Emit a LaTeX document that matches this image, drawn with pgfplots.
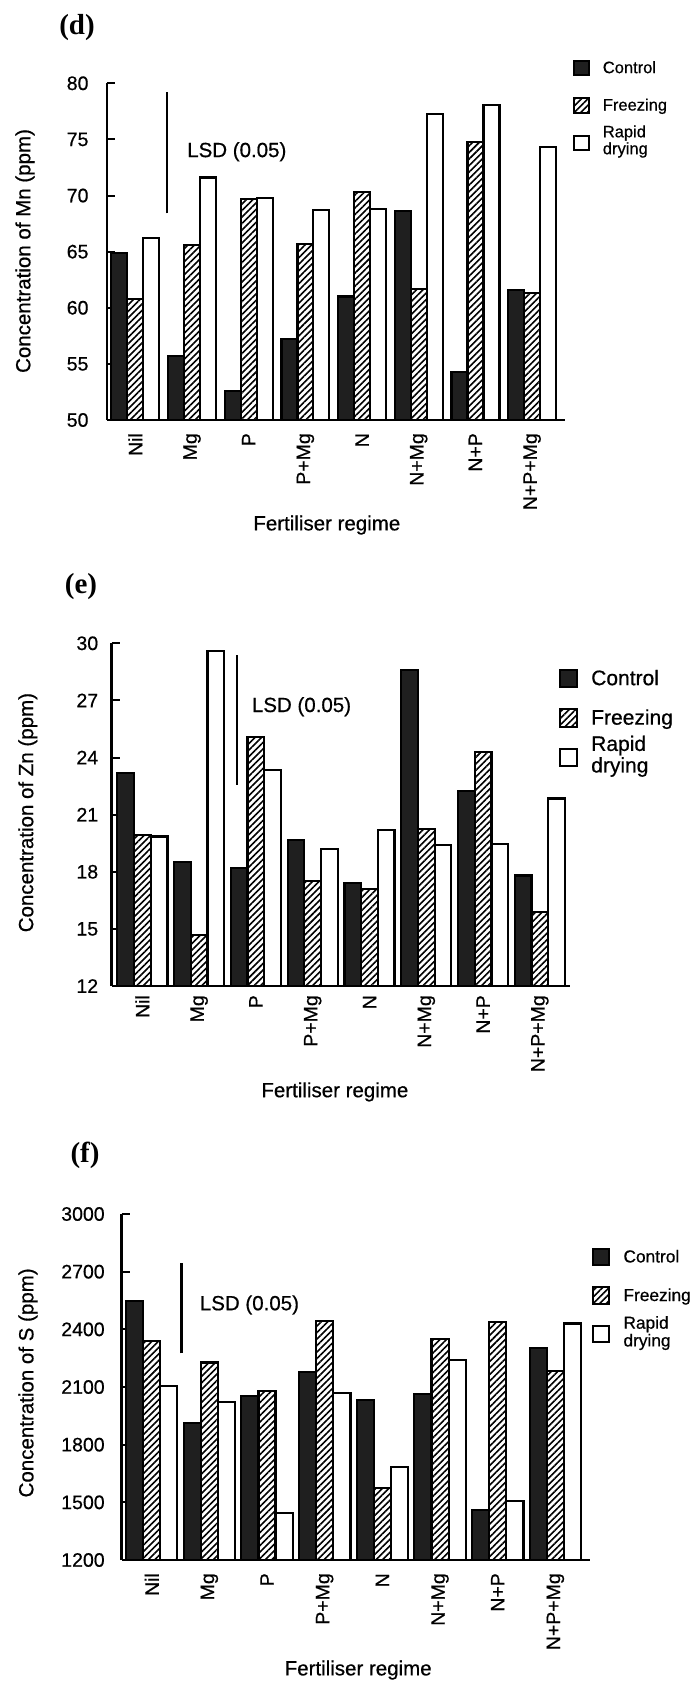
\documentclass[border=0pt]{standalone}
\usepackage{fontspec}
\setmainfont{Liberation Sans}[FakeBold=0.6]
\newfontfamily\panelfont{Liberation Serif}
\usepackage{pgfplots}
\usepackage{pgfplotstable}
\pgfplotsset{compat=1.18}
\usetikzlibrary{patterns.meta}

\newcommand{\fs}[1]{\fontsize{#1}{#1}\selectfont}

% Concentrations by fertiliser regime (0 = Nil ... 7 = N+P+Mg)
\pgfplotstableread{
g  ctrl  frz   rap
0  64.9  60.8  66.2
1  55.7  65.6  71.6
2  52.6  69.7  69.8
3  57.2  65.7  68.7
4  61.0  70.3  68.8
5  68.6  61.7  77.3
6  54.3  74.8  78.1
7  61.6  61.3  74.3
}\mntable

\pgfplotstableread{
g  ctrl   frz    rap
0  23.2   19.95  19.85
1  18.5   14.7   29.6
2  18.2   25.1   23.35
3  19.65  17.5   19.2
4  17.4   17.1   20.2
5  28.6   20.25  19.4
6  22.25  24.3   19.45
7  17.8   15.9   21.85
}\zntable

\pgfplotstableread{
g  ctrl  frz   rap
0  2549  2339  2105
1  1911  2228  2023
2  2053  2079  1443
3  2180  2443  2067
4  2032  1573  1682
5  2062  2351  2240
6  1460  2440  1505
7  2305  2183  2430
}\stable

\pgfplotsset{
  regime/.style={
    scale only axis,
    axis x line*=bottom,
    axis y line*=left,
    axis line style={line width=2.4pt},
    tick align=inside,
    major tick length=8pt,
    ytick style={line width=2pt, black},
    xtick={0,...,7},
    x tick style={draw=none},
    xticklabels={Nil,Mg,P,P+Mg,N,N+Mg,N+P,N+P+Mg},
    xticklabel style={rotate=90, anchor=east, font=\fs{19.5}},
    yticklabel style={font=\fs{19.5}},
    /pgf/number format/assume math mode=true,
    /pgf/number format/1000 sep={},
    xlabel={Fertiliser regime},
    label style={font=\fs{20.5}},
    ylabel style={rotate=0, anchor=center},
    xlabel style={anchor=center},
    clip mode=individual,
    legend cell align=left,
    legend style={draw=none, fill=none, inner sep=0pt, nodes={inner sep=1pt},
      /tikz/every odd column/.append style={column sep=12pt}},
  },
  ctrl bar/.style={ybar, bar shift=-#1, bar width=#1, draw=black, line width=2.2pt, fill=black!88},
  frz bar/.style={ybar, bar shift=0, bar width=#1, draw=black, line width=2.2pt, fill=white,
    postaction={pattern={Lines[angle=45,distance=4.6pt,line width=1.6pt]}, pattern color=black}},
  rap bar/.style={ybar, bar shift=#1, bar width=#1, draw=black, line width=2.2pt, fill=white},
  sq legend/.style={legend image code/.code={%
    \draw[##1, line width=2pt] (0pt,-#1/2) rectangle (#1,#1/2);}},
}

\begin{document}
\begin{tikzpicture}
\useasboundingbox (0,0) rectangle (694pt,-1682pt);

% ---------- (d) manganese ----------
\node[font=\panelfont\bfseries\fs{29}] at (77pt,-28pt) {(d)};
\begin{axis}[regime,
  at={(107pt,-420pt)}, anchor=south west,
  width=458pt, height=336.7pt,
  xmin=-0.5, xmax=7.58, ymin=50, ymax=80,
  ytick={50,55,...,80},
  yticklabel style={xshift=-15pt},
  xticklabel style={inner xsep=13pt},
  ylabel={Concentration of Mn (ppm)},
  ylabel style={at={(axis description cs:-0.179,0.502)}},
  xlabel style={at={(axis description cs:0.48,-0.312)}},
  every axis plot post/.append style={sq legend=14.4pt},
  legend style={at={(1.018,1.0707)}, anchor=north west, font=\fs{16.5}, row sep=21pt},
]
\addplot[ctrl bar=0.282] table[x=g, y=ctrl] {\mntable};
\addlegendentry{Control}
\addplot[frz bar=0.282] table[x=g, y=frz] {\mntable};
\addlegendentry{Freezing}
\addplot[rap bar=0.282] table[x=g, y=rap] {\mntable};
\addlegendentry{\smash{\raisebox{-0.28em}{\begin{tabular}{@{}l@{}}Rapid\\drying\end{tabular}}}}
\addplot[black, line width=2.4pt, forget plot] coordinates {(0.554,68.4) (0.554,79.2)};
\node[anchor=west, font=\fs{20.5}, inner sep=0pt] at (axis cs:0.912,73.9) {LSD (0.05)};
\end{axis}

% ---------- (e) zinc ----------
\node[font=\panelfont\bfseries\fs{29}] at (81pt,-586.7pt) {(e)};
\begin{axis}[regime,
  at={(111.7pt,-986pt)}, anchor=south west,
  width=458.3pt, height=342.7pt,
  xmin=-0.54, xmax=7.53, ymin=12, ymax=30,
  ytick={12,15,...,30},
  yticklabel style={xshift=-10pt},
  xticklabel style={inner xsep=9pt},
  ylabel={Concentration of Zn (ppm)},
  ylabel style={at={(axis description cs:-0.183,0.506)}},
  xlabel style={at={(axis description cs:0.487,-0.309)}},
  every axis plot post/.append style={sq legend=17.5pt},
  legend style={at={(0.975,0.927)}, anchor=north west, font=\fs{21}, row sep=20pt},
]
\addplot[ctrl bar=0.294] table[x=g, y=ctrl] {\zntable};
\addlegendentry{Control}
\addplot[frz bar=0.294] table[x=g, y=frz] {\zntable};
\addlegendentry{Freezing}
\addplot[rap bar=0.294] table[x=g, y=rap] {\zntable};
\addlegendentry{\smash{\raisebox{-0.28em}{\begin{tabular}{@{}l@{}}Rapid\\drying\end{tabular}}}}
\addplot[black, line width=2.4pt, forget plot] coordinates {(1.662,22.56) (1.662,29.39)};
\node[anchor=west, font=\fs{20.5}, inner sep=0pt] at (axis cs:1.926,26.67) {LSD (0.05)};
\end{axis}

% ---------- (f) sulphur ----------
\node[font=\panelfont\bfseries\fs{29}] at (85pt,-1155pt) {(f)};
\begin{axis}[regime,
  at={(121.7pt,-1560pt)}, anchor=south west,
  width=468.3pt, height=346pt,
  xmin=-0.52, xmax=7.6, ymin=1200, ymax=3000,
  ytick={1200,1500,...,3000},
  yticklabel style={xshift=-13.5pt},
  xticklabel style={inner xsep=13pt},
  ylabel={Concentration of S (ppm)},
  ylabel style={at={(axis description cs:-0.2,0.512)}},
  xlabel style={at={(axis description cs:0.505,-0.318)}},
  every axis plot post/.append style={sq legend=16.6pt},
  legend style={at={(1.0036,0.9035)}, anchor=north west, font=\fs{17.3}, row sep=20pt},
]
\addplot[ctrl bar=0.297] table[x=g, y=ctrl] {\stable};
\addlegendentry{Control}
\addplot[frz bar=0.297] table[x=g, y=frz] {\stable};
\addlegendentry{Freezing}
\addplot[rap bar=0.297] table[x=g, y=rap] {\stable};
\addlegendentry{\smash{\raisebox{-0.28em}{\begin{tabular}{@{}l@{}}Rapid\\drying\end{tabular}}}}
\addplot[black, line width=2.4pt, forget plot] coordinates {(0.516,2275) (0.516,2743)};
\node[anchor=west, font=\fs{20.5}, inner sep=0pt] at (axis cs:0.832,2527) {LSD (0.05)};
\end{axis}
\end{tikzpicture}
\end{document}
